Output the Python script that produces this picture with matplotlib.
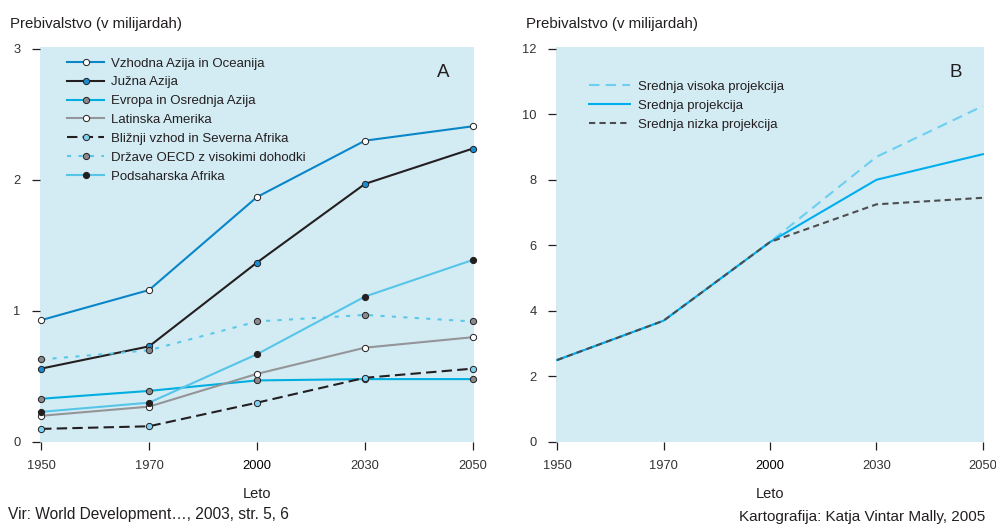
import matplotlib
matplotlib.use('Agg')
import matplotlib.pyplot as plt

plt.rcParams['font.family'] = ['Liberation Sans', 'DejaVu Sans']

# Data
years = ['1950', '1970', '2000', '2030', '2050']

regions = [
    'Vzhodna Azija in Oceanija',
    'Južna Azija',
    'Evropa in Osrednja Azija',
    'Latinska Amerika',
    'Bližnji vzhod in Severna Afrika',
    'Države OECD z visokimi dohodki',
    'Podsaharska Afrika',
]
east_asia = [0.93, 1.16, 1.87, 2.30, 2.41]
south_asia = [0.56, 0.73, 1.37, 1.97, 2.24]
europe = [0.33, 0.39, 0.47, 0.48, 0.48]
latin_america = [0.20, 0.27, 0.52, 0.72, 0.80]
middle_east = [0.10, 0.12, 0.30, 0.49, 0.56]
oecd = [0.63, 0.70, 0.92, 0.97, 0.92]
subsaharan = [0.23, 0.30, 0.67, 1.11, 1.39]

projections = ['Srednja visoka projekcija', 'Srednja projekcija', 'Srednja nizka projekcija']
world_high = [2.5, 3.7, 6.1, 8.7, 10.25]
world_mid = [2.5, 3.7, 6.1, 8.0, 8.78]
world_low = [2.5, 3.7, 6.1, 7.25, 7.45]

bg = '#d3ecf4'
txt = '#231f20'
edge = '#231f20'

fig = plt.figure(figsize=(9.96, 5.24), dpi=100)
axA = fig.add_axes([40 / 996, 82 / 524, 434 / 996, 395 / 524])
axB = fig.add_axes([556 / 996, 82 / 524, 428 / 996, 395 / 524])

x = list(range(len(years)))

# Left panel - regions
styles = [
    (east_asia, '#0a86c8', '-', 'white'),
    (south_asia, '#231f20', '-', '#1b8ccf'),
    (europe, '#00aee0', '-', '#8a8a8c'),
    (latin_america, '#949598', '-', 'white'),
    (middle_east, '#231f20', (0, (5, 2.5)), '#7fd0ef'),
    (oecd, '#5bc8e8', (0, (2, 3.5)), '#8a8a8c'),
    (subsaharan, '#56c5e8', '-', '#231f20'),
]
for (vals, col, ls, mfc), name in zip(styles, regions):
    axA.plot(x, vals, color=col, linestyle=ls, linewidth=1.5, marker='o',
             markersize=4.5, markerfacecolor=mfc, markeredgecolor=edge,
             markeredgewidth=0.7, label=name, clip_on=False, zorder=3)

axA.set_ylim(0, 3.015)
axA.set_yticks([0, 1, 2, 3])
axA.legend(loc='upper left', bbox_to_anchor=(0.035, 1.004), frameon=False,
           fontsize=9.5, handlelength=2.8, labelspacing=0.5, handletextpad=0.55,
           labelcolor=txt)
axA.text(0.93, 0.935, 'A', transform=axA.transAxes, fontsize=13.5, color=txt,
         ha='center', va='center')

# Right panel - world projections
axB.plot(x, world_high, color='#6dcff0', linestyle=(0, (5, 3)), linewidth=1.5,
         label=projections[0], zorder=3)
axB.plot(x, world_mid, color='#00aeef', linestyle='-', linewidth=1.5,
         label=projections[1], zorder=3)
axB.plot(x, world_low, color='#4d4d4f', linestyle=(0, (3, 2)), linewidth=1.5,
         label=projections[2], zorder=4)
axB.set_ylim(0, 12.05)
axB.set_yticks(range(0, 13, 2))
axB.legend(loc='upper left', bbox_to_anchor=(0.05, 0.945), frameon=False,
           fontsize=9.5, handlelength=3.1, labelspacing=0.5, handletextpad=0.6,
           labelcolor=txt)
axB.text(0.935, 0.935, 'B', transform=axB.transAxes, fontsize=13.5, color=txt,
         ha='center', va='center')

for ax in (axA, axB):
    ax.set_facecolor(bg)
    for s in ax.spines.values():
        s.set_visible(False)
    ax.set_xlim(-0.01, 4.01)
    ax.set_xticks(x)
    ax.set_xticklabels(years)
    ax.tick_params(axis='both', colors=txt, labelcolor='#333333', labelsize=9.3,
                   length=6, width=0.9)
    ax.tick_params(axis='x', pad=7)
    ax.tick_params(axis='y', pad=8)
    ax.get_xticklabels()[2].set_color('black')
    ax.set_xlabel('Leto', fontsize=10.5, color=txt, labelpad=11)
    ax.text(-0.07, 1.04, 'Prebivalstvo (v milijardah)', transform=ax.transAxes,
            fontsize=10.8, color=txt, ha='left', va='bottom')

fig.text(8 / 996, 1 - 515 / 524, 'Vir: World Development…, 2003, str. 5, 6',
         fontsize=11.2, color=txt, ha='left', va='center')
fig.text(985 / 996, 1 - 517 / 524, 'Kartografija: Katja Vintar Mally, 2005',
         fontsize=11, color=txt, ha='right', va='center')

fig.savefig('out.png', dpi=100)
